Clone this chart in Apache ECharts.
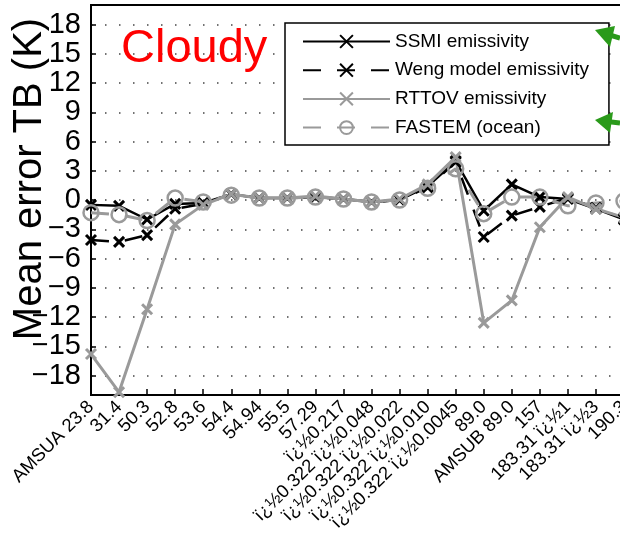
<!DOCTYPE html>
<html>
<head>
<meta charset="utf-8">
<script src="https://cdn.jsdelivr.net/npm/echarts@6/dist/echarts.min.js"></script>
<style>
html,body{margin:0;padding:0;background:#fff;}
#chart{width:620px;height:542px;}
</style>
</head>
<body>
<div id="chart"></div>
<script>
const categories = ['AMSUA 23.8','31.4','50.3','52.8','53.6','54.4','54.94','55.5','57.29','ï¿½0.217','ï¿½0.322 ï¿½0.048','ï¿½0.322 ï¿½0.022','ï¿½0.322 ï¿½0.010','ï¿½0.322 ï¿½0.0045','89.0','AMSUB 89.0','157','183.31 ï¿½1','183.31 ï¿½3','190.3'];
const ssmi   = [-0.5, -0.6, -2.0, -0.4, -0.3, 0.6, 0.2, 0.2, 0.3, 0.1, -0.2, 0.0, 1.4, 4.0, -1.1, 1.6, 0.3, 0.1, -0.9, -2.0];
const weng   = [-4.1, -4.3, -3.6, -0.9, -0.4, 0.6, 0.2, 0.2, 0.3, 0.1, -0.2, 0.0, 1.3, 3.9, -3.8, -1.6, -0.7, 0.2, -0.8, -1.9];
const rttov  = [-15.8, -19.7, -11.2, -2.5, -0.5, 0.6, 0.2, 0.2, 0.4, 0.1, -0.2, 0.1, 1.6, 4.4, -12.6, -10.3, -2.8, 0.3, -0.9, -1.8];
const fastem = [-1.3, -1.5, -2.1, 0.2, -0.2, 0.5, 0.2, 0.2, 0.3, 0.1, -0.2, 0.0, 1.2, 3.2, -1.4, 0.3, 0.3, -0.6, -0.3, -0.1];
const yTicks = [-18, -15, -12, -9, -6, -3, 0, 3, 6, 9, 12, 15, 18];
const seriesNames = ['SSMI emissivity', 'Weng model emissivity', 'RTTOV emissivity', 'FASTEM (ocean)'];
const yTitle = 'Mean error TB (K)';
const panelTitle = 'Cloudy';

const FONT = 'Liberation Sans, Arial, Helvetica, sans-serif';
const GRAY = '#9a9a9a';
const XSYM = 'path://M0,0L10,10M10,0L0,10';

const chart = echarts.init(document.getElementById('chart'), null, {renderer: 'canvas'});
chart.setOption({
  animation: false,
  backgroundColor: '#fff',
  grid: {left: 91, top: 5, right: -4, bottom: 147, show: true, borderColor: '#000', borderWidth: 2,
    containLabel: false, outerBoundsMode: 'none'},
  xAxis: {
    type: 'category',
    data: categories,
    boundaryGap: false,
    axisLine: {onZero: false, lineStyle: {color: '#000', width: 2}},
    axisTick: {inside: true, length: 6, interval: 0, lineStyle: {color: '#000', width: 1.5}},
    axisLabel: {interval: 0, rotate: 45, margin: 9, color: '#000', fontSize: 18.5, fontFamily: FONT},
    splitLine: {show: false}
  },
  yAxis: {
    type: 'value',
    min: -20, max: 20,
    axisLine: {show: true, lineStyle: {color: '#000', width: 2}},
    axisTick: {show: true, inside: true, length: 5, customValues: yTicks, lineStyle: {color: '#000', width: 1.5}},
    axisLabel: {customValues: yTicks, margin: 10, color: '#000', fontSize: 29, fontFamily: FONT,
      formatter: v => String(v).replace('-', '\u2212')},
    splitLine: {show: true, lineStyle: {color: '#444', width: 1.5, type: [1.5, 12.5]}}
  },
  legend: {
    orient: 'vertical',
    left: 285, top: 23,
    padding: [9, 20, 8, 17],
    backgroundColor: '#fff',
    borderColor: '#000', borderWidth: 1.5,
    itemWidth: 87, itemHeight: 16, itemGap: 9.7,
    textStyle: {color: '#000', fontSize: 19, fontFamily: FONT, lineHeight: 16},
    data: seriesNames
  },
  series: [
    {name: seriesNames[0], type: 'line', data: ssmi, symbol: XSYM, symbolSize: 10,
      lineStyle: {color: '#000', width: 2.5},
      itemStyle: {color: '#000', borderColor: '#000', borderWidth: 3}},
    {name: seriesNames[1], type: 'line', data: weng, symbol: XSYM, symbolSize: 10,
      lineStyle: {color: '#000', width: 2.5, type: [18, 16]},
      itemStyle: {color: '#000', borderColor: '#000', borderWidth: 3}},
    {name: seriesNames[2], type: 'line', data: rttov, symbol: XSYM, symbolSize: 10,
      lineStyle: {color: GRAY, width: 3},
      itemStyle: {color: GRAY, borderColor: GRAY, borderWidth: 3}},
    {name: seriesNames[3], type: 'line', data: fastem, symbol: 'circle', symbolSize: 15,
      lineStyle: {color: GRAY, width: 3, type: [18, 16]},
      itemStyle: {color: 'transparent', borderColor: GRAY, borderWidth: 2.5}}
  ],
  graphic: [
    {type: 'text', x: 30, y: 179, rotation: Math.PI / 2, z: 0,
      style: {text: yTitle, fill: '#000', fontSize: 40, fontFamily: FONT, align: 'center', verticalAlign: 'middle'}},
    {type: 'text', left: 121, top: 26, z: 10,
      style: {text: panelTitle, fill: '#ff0000', fontSize: 47, fontFamily: FONT}},
    {type: 'polyline', z: 20, shape: {points: [[620, 38], [603, 33]]}, style: {stroke: '#2a9a1a', lineWidth: 5}},
    {type: 'polygon', z: 20, shape: {points: [[595, 30], [615, 26], [610, 47]]}, style: {fill: '#2a9a1a'}},
    {type: 'polyline', z: 20, shape: {points: [[620, 123], [603, 121]]}, style: {stroke: '#2a9a1a', lineWidth: 5}},
    {type: 'polygon', z: 20, shape: {points: [[595, 120], [613, 112], [610, 133]]}, style: {fill: '#2a9a1a'}}
  ]
});
</script>
</body>
</html>
